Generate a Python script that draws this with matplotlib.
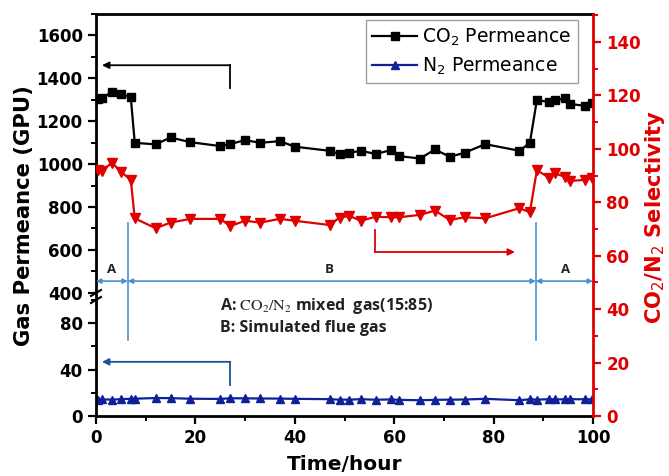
import numpy as np
import matplotlib
matplotlib.use("Agg")
import matplotlib.pyplot as plt
from matplotlib.lines import Line2D
from matplotlib.ticker import MultipleLocator


# 时间点 (hour)
time_h = [0.5, 1.2, 3.2, 5.0, 7.0, 7.8, 12, 15, 19, 25, 27, 30, 33, 37, 40,
          47, 49, 51, 53.3, 56.3, 59.3, 61, 65.2, 68.2, 71.2, 74.2, 78.3,
          85.2, 87.3, 88.7, 91.2, 92.4, 94.4, 95.4, 98.4, 99.7]

co2_perm = [1303, 1308, 1337, 1325, 1311, 1099, 1092, 1124, 1102, 1084, 1093,
            1112, 1099, 1107, 1081, 1062, 1047, 1053, 1062, 1047, 1065, 1037,
            1026, 1068, 1034, 1053, 1093, 1062, 1099, 1298, 1290, 1298, 1306,
            1280, 1272, 1283]

n2_perm = [14.2, 14.3, 14.1, 14.5, 14.8, 14.9, 15.5, 15.4, 14.9, 14.7, 15.3,
           15.2, 15.1, 15.0, 14.8, 14.5, 14.1, 14.1, 14.5, 14.0, 14.3, 13.9,
           13.6, 13.9, 14.1, 14.2, 14.8, 13.6, 14.4, 14.1, 14.5, 14.3, 14.4,
           14.5, 14.4, 14.4]

selectivity = [92.0, 91.8, 94.8, 91.5, 88.4, 74.0, 70.3, 72.4, 73.8, 73.8,
               71.1, 73.1, 72.4, 73.8, 73.1, 71.5, 74.3, 74.9, 73.1, 74.6,
               74.4, 74.4, 75.3, 76.9, 73.4, 74.4, 74.0, 77.8, 76.3, 92.0,
               89.2, 90.8, 89.5, 88.0, 88.4, 89.0]

RED = "#e00000"
NAVY = "#10209a"
LIGHT_BLUE = "#4a90d0"
DARK_BLUE = "#1e4f9c"
NOTE_FONT = ["Open Sans", "DejaVu Sans"]

W_PX, H_PX = 669, 476


def fig_rect(x0, y_top, x1, y_bot):
    """像素坐标 -> figure 坐标"""
    return [x0 / W_PX, 1 - y_bot / H_PX, (x1 - x0) / W_PX, (y_bot - y_top) / H_PX]


fig = plt.figure(figsize=(6.69, 4.76), dpi=100)

ax_bot = fig.add_axes(fig_rect(96, 300, 593, 416))
ax_top = fig.add_axes(fig_rect(96, 14, 593, 297))
ax_r = fig.add_axes(fig_rect(96, 14, 593, 416))
ax_r.set_facecolor("none")

# 上半部分：CO2
ax_top.plot(time_h, co2_perm, color="black", marker="s", markersize=5.5,
            linewidth=1.6, label="CO$_2$ Permeance")
ax_top.set_ylim(380, 1700)
ax_top.set_xlim(0, 100)
ax_top.yaxis.set_minor_locator(MultipleLocator(100))
ax_top.set_yticks([400, 600, 800, 1000, 1200, 1400, 1600])
ax_top.spines["bottom"].set_visible(False)
ax_top.spines["right"].set_visible(False)
ax_top.tick_params(axis="x", bottom=False, labelbottom=False, which="both")

# 下半部分：N2
ax_bot.plot(time_h, n2_perm, color=NAVY, marker="^", markersize=6,
            linewidth=1.6, label="N$_2$ Permeance")
ax_bot.set_ylim(0, 100)
ax_bot.set_xlim(0, 100)
ax_bot.set_yticks([0, 40, 80])
ax_bot.yaxis.set_minor_locator(MultipleLocator(20))
ax_bot.xaxis.set_major_locator(MultipleLocator(20))
ax_bot.xaxis.set_minor_locator(MultipleLocator(10))
ax_bot.spines["top"].set_visible(False)
ax_bot.spines["right"].set_visible(False)

for ax in (ax_top, ax_bot):
    ax.set_facecolor("none")
    for s in ax.spines.values():
        s.set_linewidth(2)
    ax.tick_params(which="major", direction="out", length=6, width=1.6)
    ax.tick_params(which="minor", direction="out", length=3.5, width=1.4)
    for lab in ax.get_yticklabels() + ax.get_xticklabels():
        lab.set_fontsize(12)
        lab.set_fontweight("bold")

# 右轴：选择性
ax_r.plot(time_h, selectivity, color=RED, marker="v", markersize=7,
          linewidth=1.6)
ax_r.set_xlim(0, 100)
ax_r.set_ylim(0, 150.5)
ax_r.yaxis.tick_right()
ax_r.set_yticks(np.arange(0, 141, 20))
ax_r.yaxis.set_minor_locator(MultipleLocator(10))
ax_r.tick_params(axis="x", bottom=False, labelbottom=False, which="both")
ax_r.tick_params(axis="y", which="major", direction="out", length=6,
                 width=1.6, colors=RED)
ax_r.tick_params(axis="y", which="minor", direction="out", length=3.5,
                 width=1.4, colors=RED)
for lab in ax_r.get_yticklabels():
    lab.set_fontsize(12)
    lab.set_fontweight("bold")
for side in ("left", "top", "bottom"):
    ax_r.spines[side].set_visible(False)
ax_r.spines["right"].set_color(RED)
ax_r.spines["right"].set_linewidth(2)

# 断轴标记
for yp in (293, 300):
    fig.add_artist(Line2D([91 / W_PX, 101 / W_PX],
                          [1 - (yp + 3) / H_PX, 1 - (yp - 3) / H_PX],
                          color="black", linewidth=1.5))

# 指向坐标轴的箭头
ax_top.annotate("", xy=(1.2, 1461), xytext=(27, 1461),
                arrowprops=dict(arrowstyle="-|>", color="black", lw=1.3,
                                mutation_scale=10, shrinkA=0, shrinkB=0))
ax_top.plot([27, 27], [1461, 1354], color="black", linewidth=1.3)

ax_bot.annotate("", xy=(1.2, 46.7), xytext=(27, 46.7),
                arrowprops=dict(arrowstyle="-|>", color=DARK_BLUE, lw=1.3,
                                mutation_scale=10, shrinkA=0, shrinkB=0))
ax_bot.plot([27, 27], [46.7, 26.7], color=DARK_BLUE, linewidth=1.3)

ax_r.plot([56.1, 56.1], [69.6, 61.4], color=RED, linewidth=1.3)
ax_r.annotate("", xy=(84.3, 61.4), xytext=(56.1, 61.4),
              arrowprops=dict(arrowstyle="-|>", color=RED, lw=1.3,
                              mutation_scale=10, shrinkA=0, shrinkB=0))

# A / B 区间
switch_t = [6.4, 88.5]
for t in switch_t:
    ax_r.plot([t, t], [28.5, 72.3], color=LIGHT_BLUE, linewidth=1.2)

for x0, x1 in [(0, 6.4), (6.4, 88.5), (88.5, 100)]:
    ax_r.annotate("", xy=(x1, 50.5), xytext=(x0, 50.5),
                  arrowprops=dict(arrowstyle="<|-|>", color=LIGHT_BLUE, lw=1.2,
                                  mutation_scale=7, shrinkA=0, shrinkB=0))

for x, s in [(3.2, "A"), (47, "B"), (94.4, "A")]:
    ax_r.text(x, 54.9, s, ha="center", va="center", fontsize=9.5,
              fontweight="bold", family=NOTE_FONT, color="#222222")

ax_r.text(25, 41.2, r"A: $\mathrm{CO_2/N_2}$ mixed  gas(15:85)", ha="left",
          va="center", fontsize=11.5, fontweight="bold", family=NOTE_FONT,
          math_fontfamily="stix", color="#222222")
ax_r.text(25, 33, "B: Simulated flue gas", ha="left", va="center",
          fontsize=11.5, fontweight="bold", family=NOTE_FONT, color="#222222")

# 图例
handles = [
    Line2D([], [], color="black", marker="s", markersize=5.5, linewidth=1.6),
    Line2D([], [], color=NAVY, marker="^", markersize=6, linewidth=1.6),
]
leg = ax_r.legend(handles, ["CO$_2$ Permeance", "N$_2$ Permeance"],
                  loc="upper right", bbox_to_anchor=(0.970, 0.985),
                  fontsize=13.5, frameon=True, fancybox=False,
                  handlelength=2.4, handletextpad=0.25, borderpad=0.35,
                  labelspacing=0.4, borderaxespad=0)
leg.get_frame().set_edgecolor("#888888")
leg.get_frame().set_linewidth(1.0)

# 坐标轴标题
fig.text(24 / W_PX, 1 - 216 / H_PX, "Gas Permeance (GPU)", rotation=90,
         ha="center", va="center", fontsize=15.2, fontweight="bold")
fig.text(345 / W_PX, 1 - 465 / H_PX, "Time/hour", ha="center", va="center",
         fontsize=14.5, fontweight="bold")
fig.text(655 / W_PX, 1 - 217 / H_PX, "CO$_2$/N$_2$ Selectivity", rotation=90,
         ha="center", va="center", fontsize=15.2, fontweight="bold", color=RED)

fig.savefig("out.png", dpi=100)
plt.close(fig)
